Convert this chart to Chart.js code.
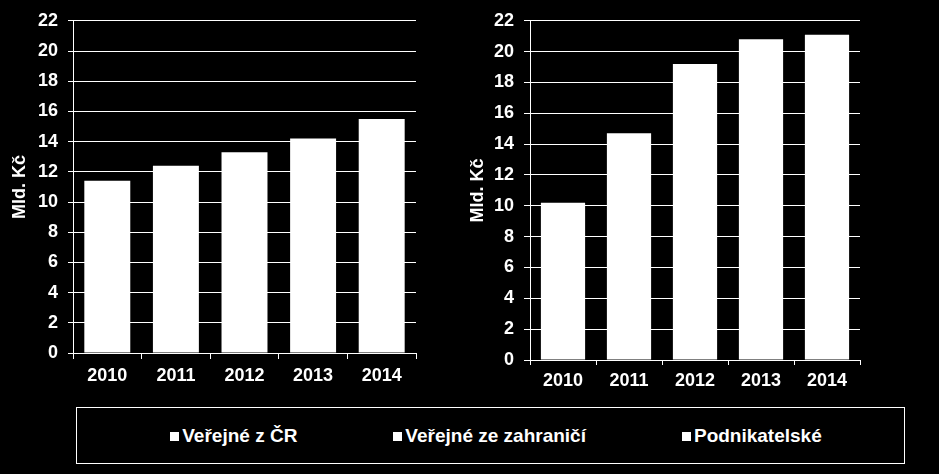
<!DOCTYPE html>
<html>
<head>
<meta charset="utf-8">
<script src="https://cdn.jsdelivr.net/npm/chart.js@4/dist/chart.umd.min.js"></script>
<style>
  html, body { margin: 0; padding: 0; background: #000; width: 939px; height: 474px; overflow: hidden; }
  #c1 { position: absolute; left: 0; top: 0; }
  #c2 { position: absolute; left: 450px; top: 0; }
  #legend {
    position: absolute; left: 76px; top: 407px; width: 829px; height: 57px;
    box-sizing: border-box; border: 1px solid #fff;
    display: flex; align-items: center; justify-content: center; gap: 96px;
    padding-left: 11px;
    font: bold 19px "Liberation Sans", Arial, sans-serif; color: #fff;
  }
  .item { display: flex; align-items: center; white-space: nowrap; }
  .sw { width: 9px; height: 9px; background: #fff; margin-right: 3px; margin-top: 1px; }
</style>
</head>
<body>
<canvas id="c1" width="420" height="390"></canvas>
<canvas id="c2" width="489" height="400"></canvas>
<div id="legend"></div>
<script>
const categories = ['2010', '2011', '2012', '2013', '2014'];
const leftValues = [11.4, 12.4, 13.3, 14.2, 15.5];
const rightValues = [10.2, 14.7, 19.2, 20.8, 21.1];
const legendLabels = ['Veřejné z ČR', 'Veřejné ze zahraničí', 'Podnikatelské'];
const axisTitle = 'Mld. Kč';
const yMin = 0, yMax = 22, yStep = 2;

const FONT = '"Liberation Sans", Arial, sans-serif';

function makeChart(id, values, o) {
  return new Chart(document.getElementById(id), {
    type: 'bar',
    data: {
      labels: categories,
      datasets: [{
        label: axisTitle,
        data: values,
        backgroundColor: '#ffffff',
        borderWidth: 0,
        barPercentage: 0.67,
        categoryPercentage: 1
      }]
    },
    options: {
      responsive: false,
      devicePixelRatio: 1,
      animation: false,
      layout: { padding: { top: 11, right: o.padRight, left: 0, bottom: 0 } },
      plugins: { legend: { display: false }, tooltip: { enabled: false } },
      scales: {
        x: {
          grid: { display: true, drawOnChartArea: false, drawTicks: true, tickLength: o.xTick, color: '#fff', lineWidth: 1, offset: true },
          border: { display: true, color: '#fff', width: 1 },
          ticks: { color: '#fff', font: { family: FONT, size: 18, weight: 'bold' }, padding: o.xPad, maxRotation: 0, autoSkip: false },
          afterFit: s => { s.height = o.xHeight; }
        },
        y: {
          min: yMin, max: yMax,
          grid: { color: '#fff', lineWidth: 1, tickLength: o.yTick, drawTicks: true },
          border: { display: true, color: '#fff', width: 1 },
          ticks: { stepSize: yStep, color: '#fff', font: { family: FONT, size: 18, weight: 'bold' }, padding: 10 },
          title: { display: true, text: axisTitle, color: '#fff', font: { family: FONT, size: 18, weight: 'bold' }, padding: { top: o.titlePad, bottom: 0 } },
          afterFit: s => { s.width = o.yWidth; }
        }
      }
    }
  });
}

makeChart('c1', leftValues, { padRight: 4, xTick: 6, xPad: 6, xHeight: 37, yTick: 5, yWidth: 73, titlePad: 9 });
makeChart('c2', rightValues, { padRight: 79, xTick: 5, xPad: 5, xHeight: 40, yTick: 6, yWidth: 80, titlePad: 17 });

const lg = document.getElementById('legend');
legendLabels.forEach(t => {
  const it = document.createElement('div');
  it.className = 'item';
  const sw = document.createElement('div');
  sw.className = 'sw';
  const tx = document.createElement('span');
  tx.textContent = t;
  it.appendChild(sw); it.appendChild(tx);
  lg.appendChild(it);
});
</script>
</body>
</html>
